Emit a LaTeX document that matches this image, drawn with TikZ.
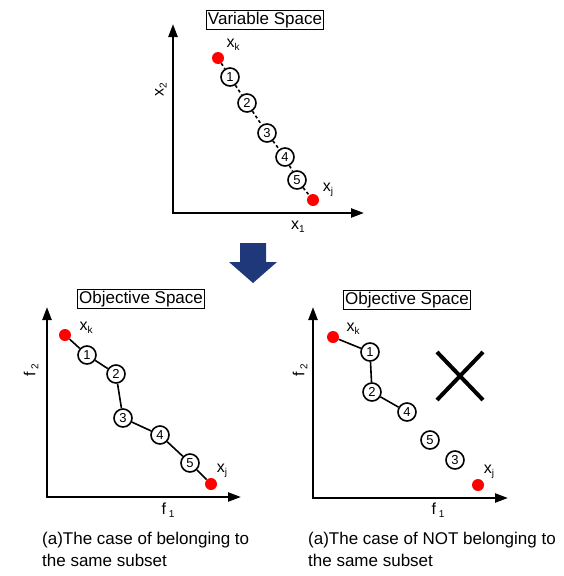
\documentclass[tikz,border=0pt]{standalone}
\usepackage{fontspec}
\setmainfont{Liberation Sans}
\usetikzlibrary{arrows.meta}
\definecolor{navy}{RGB}{31,56,122}
\newcommand{\xsub}[1]{x\raisebox{-0.35ex}{\fontsize{10}{10}\selectfont #1}}
\newcommand{\fsub}[1]{f\,\raisebox{-0.35ex}{\fontsize{10}{10}\selectfont #1}}
\begin{document}
\begin{tikzpicture}[x=1pt,y=-1pt,
  axis/.style={line width=2.3pt, {Triangle[length=13pt,width=9pt]}-{Triangle[length=13pt,width=9pt]}},
  num/.style={circle, draw, line width=1.6pt, inner sep=0pt, minimum size=18pt, fill=white, font=\fontsize{13}{13}\selectfont},
  redpt/.style={circle, fill=red, inner sep=0pt, minimum size=12pt},
  titlebox/.style={draw, line width=1.3pt, inner sep=1.5pt, font=\fontsize{17}{17}\selectfont},
  lab/.style={inner sep=0pt, font=\fontsize{16}{16}\selectfont},
  dlink/.style={line width=1.6pt, dash pattern=on 3pt off 2.5pt},
  link/.style={line width=1.6pt},
  caption/.style={align=left, anchor=north west, inner sep=0pt, font=\fontsize{17}{22}\selectfont}]
\useasboundingbox (0,0) rectangle (564,576);

% ---------- top panel ----------
\node[titlebox] (t1) at (265,20) {Variable Space};
\coordinate (a1y) at (173,24);
\coordinate (a1o) at (173,213);
\coordinate (a1x) at (364,213);
\draw[axis] (a1y) -- (a1o) -- (a1x);
\node[lab, rotate=90] (x2) at (161,90) {\xsub{2}};
\node[lab] (x1) at (298,227) {\xsub{1}};
\node[redpt] (tk) at (218,58) {};
\node[lab] (tkl) at (233,45) {\xsub{k}};
\node[num] (t1n) at (230,77) {1};
\node[num] (t2n) at (247,103) {2};
\node[num] (t3n) at (267,133) {3};
\node[num] (t4n) at (285,157) {4};
\node[num] (t5n) at (297,180) {5};
\node[redpt] (tj) at (313,200) {};
\node[lab] (tjl) at (328,190) {\xsub{j}};
\draw[dlink] (tk) -- (t1n);
\draw[dlink] (t1n) -- (t2n);
\draw[dlink] (t2n) -- (t3n);
\draw[dlink] (t3n) -- (t4n);
\draw[dlink] (t4n) -- (t5n);
\draw[dlink] (t5n) -- (tj);

% ---------- arrow ----------
\fill[navy] (240,243) -- (266,243) -- (266,262) -- (277,262) -- (253,283) -- (229,262) -- (240,262) -- cycle;

% ---------- bottom left panel ----------
\node[titlebox] (t2) at (141,299) {Objective Space};
\coordinate (a2y) at (47,307);
\coordinate (a2o) at (47,497);
\coordinate (a2x) at (241,497);
\draw[axis] (a2y) -- (a2o) -- (a2x);
\node[lab, rotate=90] (f2a) at (31,370) {\fsub{2}};
\node[lab] (f1a) at (168,510) {\fsub{1}};
\node[redpt] (lk) at (65,335) {};
\node[lab] (lkl) at (86,328) {\xsub{k}};
\node[num] (l1) at (87,355) {1};
\node[num] (l2) at (116,374) {2};
\node[num] (l3) at (123,418) {3};
\node[num] (l4) at (160,435) {4};
\node[num] (l5) at (190,463) {5};
\node[redpt] (lj) at (211,484) {};
\node[lab] (ljl) at (222,471) {\xsub{j}};
\draw[link] (lk) -- (l1);
\draw[link] (l1) -- (l2);
\draw[link] (l2) -- (l3);
\draw[link] (l3) -- (l4);
\draw[link] (l4) -- (l5);
\draw[link] (l5) -- (lj);

% ---------- bottom right panel ----------
\node[titlebox] (t3) at (407,300) {Objective Space};
\coordinate (a3y) at (313,307);
\coordinate (a3o) at (313,498);
\coordinate (a3x) at (508,498);
\draw[axis] (a3y) -- (a3o) -- (a3x);
\node[lab, rotate=90] (f2b) at (300,370) {\fsub{2}};
\node[lab] (f1b) at (438,510) {\fsub{1}};
\node[redpt] (rk) at (333,337) {};
\node[lab] (rkl) at (353,329) {\xsub{k}};
\node[num] (r1) at (370,352) {1};
\node[num] (r2) at (372,392) {2};
\node[num] (r4) at (407,412) {4};
\node[num] (r5) at (430,440) {5};
\node[num] (r3) at (455,460) {3};
\node[redpt] (rj) at (478,485) {};
\node[lab] (rjl) at (489,472) {\xsub{j}};
\draw[link] (rk) -- (r1);
\draw[link] (r1) -- (r2);
\draw[link] (r2) -- (r4);
\coordinate (c1) at (437,352);
\coordinate (c2) at (483,400);
\coordinate (c3) at (437,400);
\coordinate (c4) at (483,352);
\draw[line width=4pt] (c1) -- (c2);
\draw[line width=4pt] (c3) -- (c4);

% ---------- captions ----------
\node[caption] (cap1) at (42,532) {(a)The case of belonging to\\the same subset};
\node[caption] (cap2) at (308,532) {(a)The case of NOT belonging to\\the same subset};
\end{tikzpicture}
\end{document}
